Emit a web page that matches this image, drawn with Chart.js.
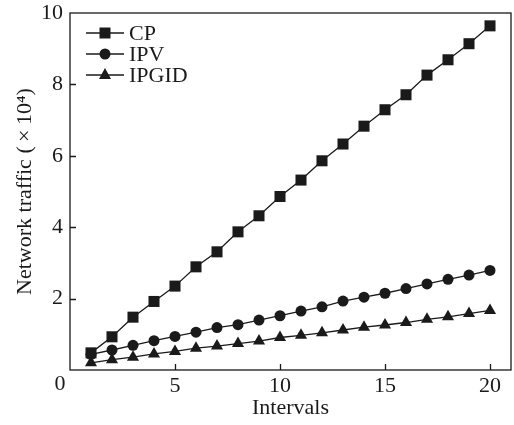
<!DOCTYPE html>
<html>
<head>
<meta charset="utf-8">
<script src="https://cdn.jsdelivr.net/npm/chart.js@4/dist/chart.umd.min.js"></script>
<style>
  html, body { margin: 0; padding: 0; background: #fff; overflow: hidden; }
  #wrap { width: 514px; height: 425px; }
</style>
</head>
<body>
<div id="wrap"><canvas id="chart"></canvas></div>
<script>
// data (traffic in units of 10^4)
const intervals = [1, 2, 3, 4, 5, 6, 7, 8, 9, 10, 11, 12, 13, 14, 15, 16, 17, 18, 19, 20];
const cp    = [0.48, 0.93, 1.48, 1.92, 2.35, 2.89, 3.31, 3.87, 4.32, 4.86, 5.32, 5.86, 6.33, 6.83, 7.29, 7.71, 8.26, 8.69, 9.14, 9.64];
const ipv   = [0.44, 0.56, 0.69, 0.82, 0.94, 1.06, 1.19, 1.27, 1.40, 1.52, 1.65, 1.77, 1.93, 2.04, 2.15, 2.28, 2.41, 2.54, 2.66, 2.79];
const ipgid = [0.20, 0.29, 0.36, 0.45, 0.52, 0.61, 0.67, 0.74, 0.81, 0.91, 0.97, 1.04, 1.12, 1.20, 1.26, 1.33, 1.42, 1.49, 1.58, 1.67];
const xTicks = [0, 5, 10, 15, 20];
const yTicks = [0, 2, 4, 6, 8, 10];
const seriesNames = ['CP', 'IPV', 'IPGID'];
const seriesStyles = ['rect', 'circle', 'triangle'];

const INK = '#1a1a1a';
const FONT = '"Liberation Serif", "Times New Roman", serif';

const toXY = arr => arr.map((v, i) => ({ x: intervals[i], y: v }));
const radii = { rect: 7.8, circle: 5.5, triangle: 7 };

const datasets = [cp, ipv, ipgid].map((arr, i) => ({
  label: seriesNames[i],
  data: toXY(arr),
  borderColor: INK,
  backgroundColor: INK,
  borderWidth: 1.3,
  pointStyle: seriesStyles[i],
  pointRadius: radii[seriesStyles[i]],
  pointBorderWidth: 0,
  pointBackgroundColor: INK,
  tension: 0
}));

// frame, inward ticks, shared zero label, legend with line + marker
const decor = {
  id: 'decor',
  afterDatasetsDraw(chart) {
    const { ctx, chartArea: a, scales: { x, y } } = chart;
    ctx.save();
    ctx.strokeStyle = INK;
    ctx.lineWidth = 1.3;
    ctx.strokeRect(a.left, a.top, a.right - a.left, a.bottom - a.top);
    ctx.beginPath();
    yTicks.slice(1, -1).forEach(v => {
      const py = Math.round(y.getPixelForValue(v)) + 0.5;
      ctx.moveTo(a.left, py); ctx.lineTo(a.left + 6, py);
    });
    xTicks.slice(1).forEach(v => {
      const px = Math.round(x.getPixelForValue(v)) + 0.5;
      ctx.moveTo(px, a.bottom); ctx.lineTo(px, a.bottom - 6);
    });
    ctx.stroke();

    ctx.fillStyle = INK;
    ctx.font = '22px ' + FONT;
    ctx.textAlign = 'center';
    ctx.textBaseline = 'middle';
    ctx.fillText('0', a.left - 10, a.bottom + 14);

    // legend
    ctx.textAlign = 'left';
    seriesNames.forEach((name, i) => {
      const ly = a.top + 20 + i * 21;
      const lx0 = a.left + 16, lx1 = a.left + 54, cx = (lx0 + lx1) / 2;
      ctx.beginPath();
      ctx.moveTo(lx0, ly); ctx.lineTo(lx1, ly);
      ctx.stroke();
      ctx.beginPath();
      if (seriesStyles[i] === 'rect') {
        ctx.rect(cx - 5.5, ly - 5.5, 11, 11);
      } else if (seriesStyles[i] === 'circle') {
        ctx.arc(cx, ly, 5.5, 0, Math.PI * 2);
      } else {
        ctx.moveTo(cx, ly - 7); ctx.lineTo(cx + 6, ly + 4); ctx.lineTo(cx - 6, ly + 4); ctx.closePath();
      }
      ctx.fill();
      ctx.fillText(name, lx1 + 5, ly + 1);
    });
    ctx.restore();
  }
};

new Chart(document.getElementById('chart').getContext('2d'), {
  type: 'line',
  data: { datasets },
  options: {
    responsive: true,
    maintainAspectRatio: false,
    animation: false,
    layout: { autoPadding: false, padding: { top: 13, right: 3, left: 0, bottom: 0 } },
    plugins: { legend: { display: false }, tooltip: { enabled: false } },
    scales: {
      x: {
        type: 'linear',
        min: 0, max: 21,
        afterBuildTicks: s => { s.ticks = xTicks.map(v => ({ value: v })); },
        afterFit: s => { s.height = 55; s.paddingLeft = 0; s.paddingRight = 0; },
        grid: { display: false, drawTicks: false },
        border: { display: false },
        ticks: {
          color: INK, padding: 3, maxRotation: 0,
          font: { family: FONT, size: 22 },
          callback: v => (v === 0 ? '' : v)
        },
        title: {
          display: true, text: 'Intervals', color: INK,
          font: { family: FONT, size: 22 }, padding: { top: 0, bottom: 4 }
        }
      },
      y: {
        min: 0, max: 10,
        afterBuildTicks: s => { s.ticks = yTicks.map(v => ({ value: v })); },
        afterFit: s => { s.width = 70; s.paddingTop = 0; s.paddingBottom = 0; },
        grid: { display: false, drawTicks: false },
        border: { display: false },
        ticks: {
          color: INK, padding: 7,
          font: { family: FONT, size: 22 },
          callback: v => (v === 0 ? '' : v)
        },
        title: {
          display: true, text: 'Network traffic (\u2009×\u200910⁴)', color: INK,
          font: { family: FONT, size: 22 }, padding: { top: 12, bottom: 0 }
        }
      }
    }
  },
  plugins: [decor]
});
</script>
</body>
</html>
